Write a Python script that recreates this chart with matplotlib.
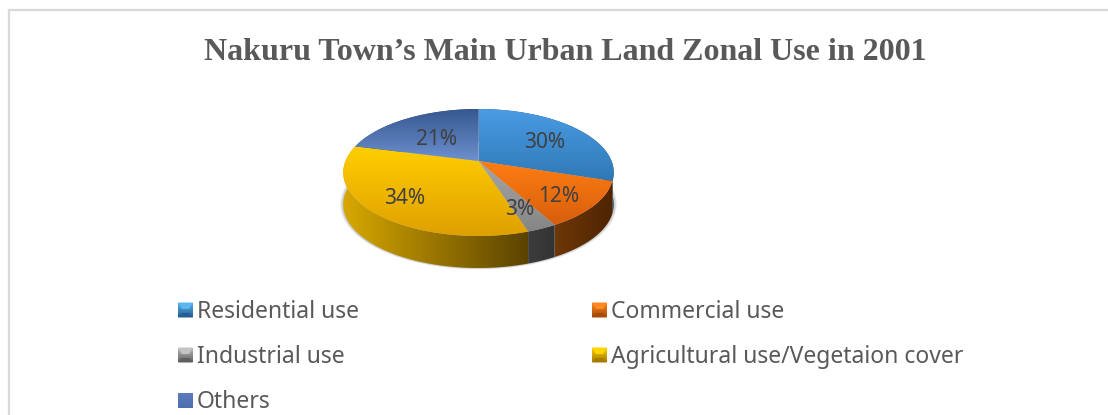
import numpy as np
from matplotlib import pyplot as plt
from matplotlib.colors import LinearSegmentedColormap
from matplotlib.patches import Polygon

labels = ["Residential use", "Commercial use", "Industrial use",
          "Agricultural use/Vegetaion cover", "Others"]
values = [30, 12, 3, 34, 21]
title = "Nakuru Town\u2019s Main Urban Land Zonal Use in 2001"

# (top of gradient, bottom of gradient)
top_colors = [("#4a9ce4", "#2f78b6"), ("#ff7d12", "#d65e0c"), ("#a6a6a6", "#858585"),
              ("#ffce00", "#dfa000"), ("#35588f", "#6d90d0")]
# (left of gradient, right of gradient)
side_colors = [("#1f4f7c", "#1f4f7c"), ("#6d3706", "#4f2403"), ("#3c3c3c", "#333333"),
               ("#d8a800", "#5a4300"), ("#2f4a80", "#2f4a80")]
# lighter bevel and dark base of the legend keys
key_colors = [("#5cb6f0", "#245f92"), ("#ff8a20", "#a84a08"), ("#c4c4c4", "#5f5f5f"),
              ("#ffd400", "#a67c00"), ("#5a7cbc", "#4d6fb0")]

fig = plt.figure(figsize=(11.08, 4.15), dpi=100)
ax = fig.add_axes([0, 0, 1, 1])


def project(angle):
    # flat circle seen in perspective, angle clockwise from the top
    u, v = np.sin(angle), np.cos(angle)
    s = 1 / (1 + 0.181 * v)
    return 478.5 + 133 * u * s, 161 - 61.4 * v * s


def gradient(poly_xy, c0, c1, horizontal=False, zorder=3):
    poly = Polygon(poly_xy, closed=True, fc="none", ec="none", transform=ax.transData)
    ax.add_patch(poly)
    x0, y0 = poly_xy.min(axis=0)
    x1, y1 = poly_xy.max(axis=0)
    cmap = LinearSegmentedColormap.from_list("g", [c0, c1])
    ramp = np.linspace(0, 1, 256)
    ramp = ramp.reshape(1, -1) if horizontal else ramp.reshape(-1, 1)
    im = ax.imshow(ramp, cmap=cmap, extent=(x0, x1, y1, y0), origin="upper",
                   aspect="auto", zorder=zorder, interpolation="bilinear")
    im.set_clip_path(poly)


depth = 32
edges = np.cumsum([0] + values) / sum(values) * 2 * np.pi

# soft shadow under the pie
outline = np.column_stack(project(np.linspace(0, 2 * np.pi, 300)))
for grow in np.linspace(3, 0, 4):
    middle = np.array([478.5, 172 + depth])
    ring = middle + (outline - [478.5, 172]) * (1 + grow / 135)
    ax.add_patch(Polygon(ring, closed=True, fc="#404040", ec="none", alpha=0.1, zorder=1))

# side walls first, the top faces cover whatever is behind
for i in range(len(values)):
    t = np.linspace(edges[i], edges[i + 1], 120)
    arc = np.column_stack(project(t))
    wall = np.vstack([arc, arc[::-1] + [0, depth]])
    gradient(wall, side_colors[i][0], side_colors[i][1], horizontal=True, zorder=2)

for i in range(len(values)):
    t = np.linspace(edges[i], edges[i + 1], 120)
    arc = np.column_stack(project(t))
    face = np.vstack([[478.5, 161], arc])
    gradient(face, top_colors[i][0], top_colors[i][1], zorder=3)

# percent labels
label_pos = [(545, 142), (559, 196), (520, 209), (405, 198), (437, 139)]
for v, (x, y) in zip(values, label_pos):
    ax.text(x, y, f"{v}%", ha="center", va="center", color="#404040",
            fontsize=15, family="Noto Sans", zorder=5)

ax.text(565, 52, title, ha="center", va="center", color="#595959", fontsize=23,
        fontweight="bold", family="Liberation Serif")

# legend, filled row by row in two columns
key_x = [178, 592]
key_y = [310, 355, 400]
for i, name in enumerate(labels):
    x = key_x[i % 2]
    y = key_y[i // 2]
    light, dark = key_colors[i]
    square = np.array([[x, y - 7.5], [x + 15, y - 7.5], [x + 15, y + 7.5], [x, y + 7.5]])
    gradient(square, light, dark, zorder=3)
    if i < 4:
        ax.add_patch(Polygon([[x, y - 7.5], [x + 15, y - 7.5], [x + 11, y - 1], [x + 4, y - 1]],
                             closed=True, fc=light, ec="none", zorder=4))
        ax.add_patch(Polygon([[x, y + 7.5], [x + 15, y + 7.5], [x + 11, y + 3], [x + 4, y + 3]],
                             closed=True, fc=dark, ec="none", zorder=4))
    ax.text(x + 19, y + 2, name, ha="left", va="center", color="#595959",
            fontsize=16.5, family="Noto Sans", zorder=5)

# chart frame, cut by the image on the right and bottom
ax.plot([9, 9, 1108], [415, 10, 10], color="#d9d9d9", lw=1.6, zorder=6, solid_joinstyle="miter")

ax.set_xlim(0, 1108)
ax.set_ylim(415, 0)
ax.axis("off")
fig.savefig("out.png", dpi=100, facecolor="white")
